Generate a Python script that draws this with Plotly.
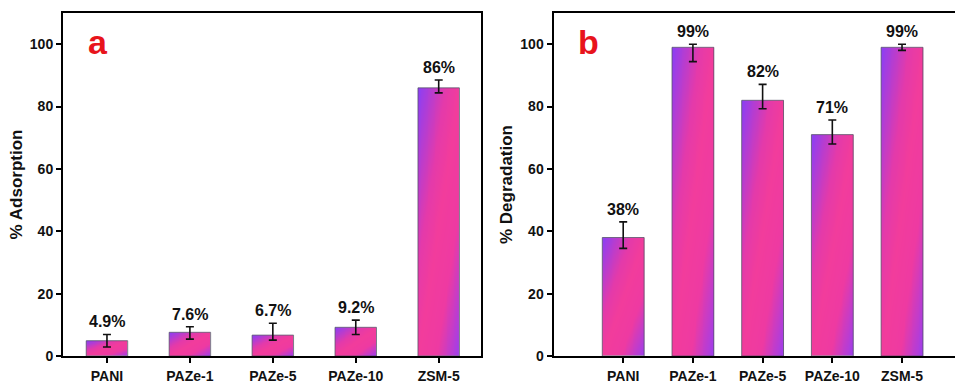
import numpy as np
import plotly.graph_objects as go

# ---- data ----
categories = ["PANI", "PAZe-1", "PAZe-5", "PAZe-10", "ZSM-5"]

adsorption = [4.9, 7.6, 6.7, 9.2, 86]
adsorption_err_plus = [2.0, 1.8, 3.8, 2.3, 2.5]
adsorption_err_minus = [2.0, 2.2, 1.6, 2.3, 1.6]

degradation = [38, 99, 82, 71, 99]
degradation_err_plus = [5.0, 1.0, 5.1, 4.7, 1.0]
degradation_err_minus = [3.5, 4.6, 2.7, 3.0, 1.0]

y_ticks = [0, 20, 40, 60, 80, 100]

# ---- styling ----
FONT = "Liberation Sans, Arial, sans-serif"
PURPLE = "#8b3ff5"
PINK = "#f23c9c"
GRAD_SCALE = [[0.0, PURPLE], [0.33, "#e43aaa"], [0.5, PINK],
              [0.72, "#ee3aa2"], [1.0, "#9a3ef0"]]

fig = go.Figure()


def gradient_fill(xc, value, width, xa, ya, nx=24, ny=48):
    """Diagonal purple-pink-purple fill spanning one bar's rectangle."""
    xe = np.linspace(xc - width / 2, xc + width / 2, nx + 1)
    ye = np.linspace(0, value, ny + 1)
    u = (np.arange(nx) + 0.5) / nx
    frac = (np.arange(ny) + 0.5) / ny
    z = (u[None, :] + (1 - frac[:, None])) / 2
    fig.add_trace(go.Heatmap(
        x=xe, y=ye, z=z, zmin=0, zmax=1, colorscale=GRAD_SCALE,
        showscale=False, hoverinfo="skip", zsmooth="best",
        xaxis=xa, yaxis=ya,
    ))


def panel(values, eplus, eminus, width, xa, ya):
    xs = list(range(1, len(values) + 1))
    for xc, v in zip(xs, values):
        gradient_fill(xc, v, width, xa, ya)
    fig.add_trace(go.Bar(
        x=xs, y=values, width=width, xaxis=xa, yaxis=ya,
        marker=dict(color="rgba(0,0,0,0)",
                    line=dict(color="rgba(80,80,100,0.75)", width=1)),
        error_y=dict(type="data", array=eplus, arrayminus=eminus,
                     color="#111111", thickness=1.6, width=4),
        showlegend=False, hoverinfo="skip",
    ))
    # value labels sit just above each error bar
    for xc, v, ep in zip(xs, values, eplus):
        fig.add_annotation(
            x=xc, y=v + ep, xref=xa, yref=ya, yanchor="bottom",
            text=f"{v:g}%", showarrow=False, yshift=2,
            font=dict(family=FONT, size=16, color="#111111", weight="bold"),
        )


panel(adsorption, adsorption_err_plus, adsorption_err_minus, 0.5, "x", "y")
panel(degradation, degradation_err_plus, degradation_err_minus, 0.6, "x2", "y2")

y_dom = [(384 - 356) / 384, (384 - 13) / 384]

axis_common = dict(
    showline=True, linecolor="#000000", linewidth=2,
    ticks="outside", ticklen=5, tickwidth=2, tickcolor="#000000",
    showgrid=False, zeroline=False, automargin=False,
    tickfont=dict(family=FONT, size=14, color="#111111", weight="bold"),
)
title_font = dict(family=FONT, size=17, color="#111111", weight="bold")

fig.update_layout(
    width=955, height=384,
    margin=dict(l=0, r=0, t=0, b=0),
    plot_bgcolor="white", paper_bgcolor="white",
    barmode="overlay",
    showlegend=False,
    xaxis=dict(domain=[63 / 955, 481 / 955], range=[0.47, 5.51],
               tickvals=list(range(1, 6)), ticktext=categories,
               mirror=True, anchor="y", ticklabelstandoff=1, **axis_common),
    yaxis=dict(domain=y_dom, range=[0, 110], tickvals=y_ticks,
               mirror=True, anchor="x",
               title=dict(text="% Adsorption", standoff=3, font=title_font),
               **axis_common),
    xaxis2=dict(domain=[553.5 / 955, 1.0], range=[0, 5.76],
                tickvals=list(range(1, 6)), ticktext=categories,
                mirror=True, anchor="y2", ticklabelstandoff=1, **axis_common),
    yaxis2=dict(domain=y_dom, range=[0, 110], tickvals=y_ticks,
                mirror=False, anchor="x2",
                title=dict(text="% Degradation", standoff=3, font=title_font),
                **axis_common),
)

# panel letters
for letter, xa, xpos in (("a", "x", 0.055), ("b", "x2", 0.057)):
    fig.add_annotation(
        x=xpos, y=0.915, xref=f"{xa} domain", yref="y domain",
        xanchor="left", yanchor="middle", text=letter, showarrow=False,
        font=dict(family=FONT, size=34, color="#e8141c", weight="bold"),
    )

fig.write_html("out.html")
